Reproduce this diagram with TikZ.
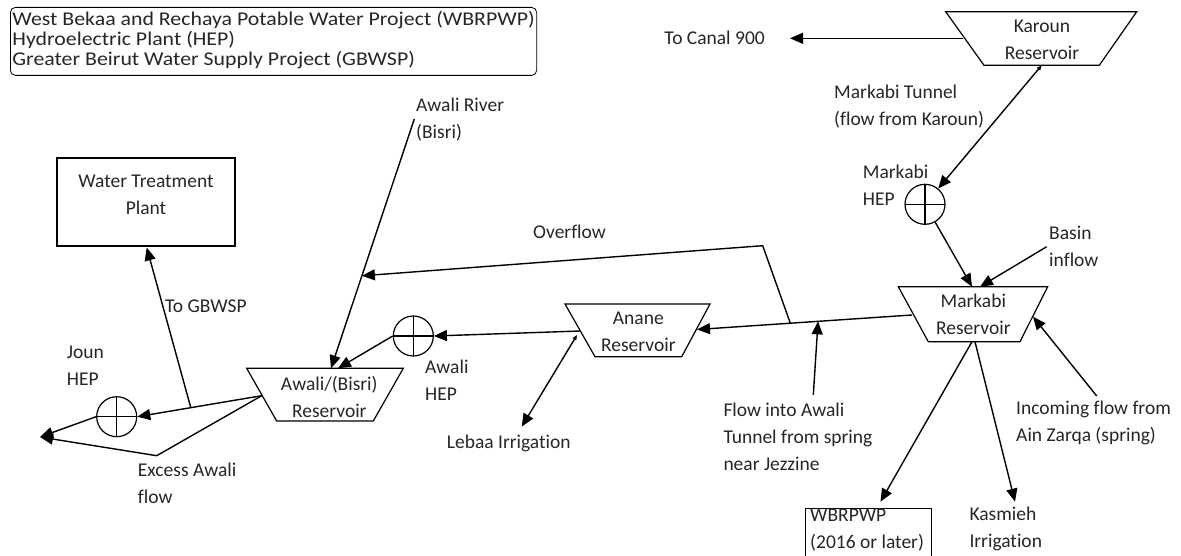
\documentclass[tikz,border=0pt]{standalone}
\usepackage{fontspec}
\usepackage{graphicx}
\setmainfont[Ligatures=NoCommon]{Carlito}
\usetikzlibrary{arrows.meta,calc}
\begin{document}
\begin{tikzpicture}[x=1pt,y=-1pt,
  lbl/.style={inner sep=0, align=left, anchor=west, font=\fontsize{19.5}{27}\selectfont, text=black!85},
  ctr/.style={inner sep=0, align=center, font=\fontsize{19.5}{27}\selectfont, text=black!85},
  res/.style={draw, line width=1.2pt, line join=miter},
  flow/.style={line width=1.4pt, line join=miter, -{Triangle[length=13pt,width=11pt]}},
  bflow/.style={line width=1.4pt, line join=miter, {Triangle[length=5pt,width=4pt]}-{Triangle[length=13pt,width=11pt]}},
  hep/.style={circle, draw, line width=1.2pt, minimum size=40pt, inner sep=0,
    path picture={\draw[line width=1.2pt] (path picture bounding box.north) -- (path picture bounding box.south)
      (path picture bounding box.west) -- (path picture bounding box.east);}}]
\useasboundingbox (0,0) rectangle (1181,556);

% legend
\node[draw, rounded corners=5pt, line width=0.8pt, anchor=north west, inner xsep=2pt, minimum height=68pt,
  font=\fontsize{19.5}{20}\selectfont, text=black!85] (legend) at (10,7)
  {\scalebox{1.12}[1]{\begin{tabular}{@{}l@{}}West Bekaa and Rechaya Potable Water Project (WBRPWP)\\Hydroelectric Plant (HEP)\\Greater Beirut Water Supply Project (GBWSP)\end{tabular}}};

% Karoun
\draw[res] (945.7,11.7) -- (1136.7,11.7) -- (1099.3,65.3) -- (984,65.3) -- cycle;
\node[ctr] (karoun) at (1042,39.5) {Karoun\\Reservoir};
\coordinate (karL) at (963.3,38.3);
\coordinate (karB) at (1041.7,65.3);
\node[lbl, anchor=east] (canal) at (765,38.3) {To Canal 900};
\coordinate (canalT) at (790,38.3);
\draw[flow] (karL) -- (canalT);

% Markabi HEP
\node[lbl] (tunnelL) at (834,106.5) {Markabi Tunnel\\(flow from Karoun)};
\node[hep] (hepM) at (925,204.3) {};
\node[lbl] (hepML) at (862.7,185) {Markabi\\HEP};
\draw[bflow] (karB) -- (hepM);

% Markabi reservoir
\draw[res] (898.3,286.7) -- (1047.7,286.7) -- (1020,341.7) -- (928.3,341.7) -- cycle;
\node[ctr] (markabi) at (973.3,314.3) {Markabi\\Reservoir};
\coordinate (mkT1) at (972,286.7);
\coordinate (mkT2) at (980,286.7);
\draw[flow] (hepM) -- (mkT1);
\coordinate (basinS) at (1046.7,246.7);
\draw[flow] (basinS) -- (mkT2);
\node[lbl] (basinL) at (1049,246.5) {Basin\\inflow};

% Markabi -> Anane
\coordinate (mkL) at (912,315);
\coordinate (anR) at (697,329.5);
\draw[flow] (mkL) -- (anR);
\draw[res] (565,304) -- (710,304) -- (681.7,356.7) -- (595,356.7) -- cycle;
\node[ctr] (anane) at (638.3,332) {Anane\\Reservoir};

% Awali river
\coordinate (rivS) at (414.3,119);
\coordinate (awT1) at (331,368.3);
\draw[flow] (rivS) -- (awT1);
\node[lbl] (rivL) at (416,120) {Awali River\\(Bisri)};

% Overflow
\coordinate (ovJ) at ($(mkL)!0.566!(anR)$);
\coordinate (ovC) at (762.7,245.7);
\coordinate (ovT) at ($(rivS)!0.629!(awT1)$);
\draw[flow] (ovJ) -- (ovC) -- (ovT);
\node[lbl] (ovL) at (533,232) {Overflow};

% Flow into Awali tunnel
\coordinate (jzJ) at ($(mkL)!0.437!(anR)$);
\coordinate (jzS) at (813.3,395);
\draw[flow] (jzS) -- (jzJ);
\node[lbl] (jzL) at (723.3,436.7) {Flow into Awali\\Tunnel from spring\\near Jezzine};

% Awali reservoir
\draw[res] (246.7,368.3) -- (403.3,368.3) -- (373.3,421) -- (276.7,421) -- cycle;
\node[ctr] (awali) at (329.3,396.7) {Awali/(Bisri)\\Reservoir};
\node[hep] (hepA) at (413.3,336) {};
\coordinate (awT2) at (338,368.3);
\draw[flow] (hepA.west) -- (awT2);
\coordinate (anL) at (580.4,331);
\draw[flow] (anL) -- (hepA.east);
\node[lbl] (hepAL) at (425,380) {Awali\\HEP};

% Lebaa
\coordinate (anL2) at (577,335);
\coordinate (lebT) at (521.7,426.7);
\draw[bflow] (anL2) -- (lebT);
\node[lbl] (lebL) at (446.7,443.3) {Lebaa Irrigation};

% Markabi outflows
\coordinate (mkB1) at (972,341.7);
\coordinate (mkB2) at (975,341.7);
\node[draw, line width=1pt, anchor=north west, minimum width=126pt, minimum height=62pt, inner sep=0] (wbr) at (805,507.7) {};
\node[lbl] (wbrL) at (810,530.5) {WBRPWP\\(2016 or later)};
\coordinate (wbrT) at ($(wbr.north)+(12,-6)$);
\draw[flow] (mkB1) -- (wbrT);
\node[lbl] (kasL) at (969.3,529.3) {Kasmieh\\Irrigation};
\coordinate (kasT) at (1015,501.7);
\draw[flow] (mkB2) -- (kasT);

% Ain Zarqa
\coordinate (azS) at (1096.7,396);
\coordinate (mkR) at (1033,316.7);
\draw[flow] (azS) -- (mkR);
\node[lbl] (azL) at (1016,423) {Incoming flow from\\Ain Zarqa (spring)};

% Water treatment plant
\node[draw, line width=1.8pt, minimum width=178.3pt, minimum height=87.7pt, inner sep=0] (wtp) at (145.8,202.2) {};
\node[ctr] (wtpL) at (146,194.7) {Water Treatment\\Plant};

% Joun
\node[hep] (hepJ) at (116.7,416.7) {};
\node[lbl] (hepJL) at (66.7,366) {Joun\\HEP};
\coordinate (awL) at (261.7,395.7);
\draw[flow] (awL) -- (hepJ.east);
\coordinate (gbJ) at ($(awL)!0.57!(hepJ.east)$);
\coordinate (wtpB) at (146.7,247.5);
\draw[flow] (gbJ) -- (wtpB);
\node[lbl] (gbL) at (165,306) {To GBWSP};
\coordinate (outT) at (40,437);
\draw[flow] (hepJ.west) -- (outT);
\coordinate (exC) at (156.7,455.7);
\draw[flow] (awL) -- (exC) -- (outT);
\node[lbl] (exL) at (137.7,483) {Excess Awali\\flow};
\end{tikzpicture}
\end{document}
